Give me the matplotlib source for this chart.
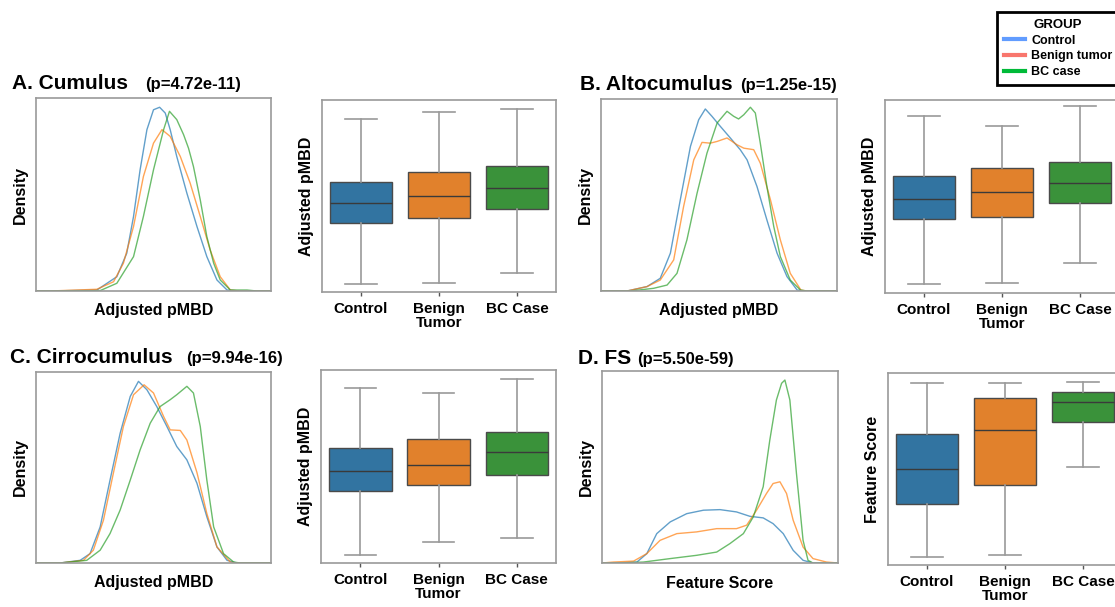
import matplotlib
matplotlib.use("Agg")
import matplotlib.pyplot as plt
from matplotlib.lines import Line2D

plt.rcParams['font.family'] = ['Liberation Sans', 'DejaVu Sans']

W, H = 1115, 607

# ---------------- data ----------------
groups = ["Control", "Benign tumor", "BC case"]
box_labels = ["Control", "Benign\nTumor", "BC Case"]
titles = ["A. Cumulus", "B. Altocumulus", "C. Cirrocumulus", "D. FS"]
pvalues = ["(p=4.72e-11)", "(p=1.25e-15)", "(p=9.94e-16)", "(p=5.50e-59)"]
xlabels = ["Adjusted pMBD", "Adjusted pMBD", "Adjusted pMBD", "Feature Score"]
ylabels_box = ["Adjusted pMBD", "Adjusted pMBD", "Adjusted pMBD", "Feature Score"]

# density curves (x: % of range, y: % of axis height)
A_x_control = [0, 6.0, 25.9, 34.4, 38.6, 41.5, 44.3, 47.2, 50.0, 52.6, 55.0, 57.1, 59.9, 64.2, 68.5, 72.7, 77.0, 81.3, 86.9, 100]
A_y_control = [0, 0, 0.5, 7.4, 19.5, 38.6, 62.8, 83.6, 93.9, 95.2, 92.2, 83.6, 69.7, 50.7, 33.4, 17.8, 5.7, 0.5, 0, 0]
A_x_benign = [0, 6.0, 25.9, 33.0, 37.2, 41.5, 45.7, 50.0, 53.6, 57.1, 61.4, 65.6, 69.9, 74.1, 78.4, 82.7, 86.9, 100]
A_y_benign = [0, 0, 0.9, 4.8, 14.4, 33.4, 59.3, 76.6, 83.6, 80.1, 69.7, 55.9, 38.6, 21.3, 7.4, 0.5, 0, 0]
A_x_bc = [0, 6.0, 27.3, 34.4, 41.5, 45.7, 50.0, 54.3, 56.8, 59.9, 62.8, 64.9, 67.0, 69.9, 72.7, 75.6, 78.4, 82.7, 89.8, 94, 100]
A_y_bc = [0, 0, 0.2, 4.0, 17.8, 38.6, 62.8, 83.6, 93.1, 88.8, 81.0, 74.0, 64.5, 47.2, 28.2, 14.4, 5.7, 0.5, 0.5, 0, 0]

B_x_control = [0, 11.0, 19.5, 25.1, 29.4, 33.6, 37.9, 41.4, 44.2, 47.0, 50.6, 54.8, 59.0, 61.9, 66.1, 70.3, 74.6, 78.8, 83.1, 85.9, 100]
B_y_control = [0, 0, 2.3, 6.6, 19.7, 47.5, 75.3, 89.2, 94.8, 91.0, 85.7, 79.7, 73.6, 68.3, 54.4, 37.0, 19.7, 7.5, 0.5, 0, 0]
B_x_benign = [0, 11.0, 19.5, 25.1, 30.8, 35.0, 39.3, 42.8, 46.3, 49.2, 53.4, 57.6, 60.5, 64.7, 67.5, 71.8, 76.0, 80.2, 84.7, 87.3, 100]
B_y_benign = [0, 0, 2.3, 5.7, 16.2, 44.0, 68.3, 77.4, 77.0, 77.9, 79.7, 76.2, 74.4, 73.6, 66.6, 47.5, 26.6, 9.2, 0.5, 0, 0]
B_x_bc = [0, 12.4, 22.3, 28.0, 32.2, 36.4, 40.7, 44.9, 49.2, 53.4, 56.2, 58.3, 60.5, 63.3, 65.4, 67.5, 70.3, 73.2, 76.0, 80.2, 84.5, 87.3, 100]
B_y_bc = [0, 0, 1.4, 3.1, 9.2, 26.6, 50.9, 71.8, 87.5, 93.6, 91.0, 89.6, 91.8, 95.7, 92.7, 77.0, 54.4, 33.6, 17.9, 5.7, 0.5, 0, 0]

C_x_control = [0, 10.2, 18.8, 23.0, 27.3, 31.5, 35.8, 40.1, 43.6, 47.2, 51.4, 55.7, 59.9, 64.2, 68.5, 72.7, 77.0, 81.3, 85.5, 100]
C_y_control = [0, 0, 1.4, 4.9, 18.9, 43.4, 67.9, 87.2, 95.1, 90.7, 81.9, 71.5, 61.0, 54.0, 41.7, 24.2, 8.4, 1.4, 0, 0]
C_x_benign = [0, 10.2, 20.2, 24.4, 28.7, 32.9, 37.2, 41.5, 46.0, 50.0, 54.3, 57.1, 61.4, 64.2, 68.5, 72.7, 77.0, 82.7, 85.5, 100]
C_y_benign = [0, 0, 1.4, 6.7, 22.4, 46.9, 71.5, 88.1, 93.3, 89.0, 76.7, 69.7, 69.4, 64.4, 47.3, 25.9, 8.4, 0.5, 0, 0]
C_x_bc = [0, 10.2, 21.6, 27.3, 31.5, 35.8, 40.1, 44.3, 48.6, 52.8, 57.1, 59.9, 64.2, 67.0, 69.9, 72.7, 75.6, 79.8, 84.1, 86.9, 100]
C_y_bc = [0, 0, 1.4, 6.7, 15.4, 27.7, 43.4, 59.2, 73.2, 81.9, 85.5, 88.1, 92.5, 89.0, 71.5, 43.4, 18.9, 4.9, 0.5, 0, 0]

D_x_control = [0, 4.9, 14.8, 19.0, 23.2, 28.9, 35.9, 43.0, 50.0, 57.0, 62.7, 68.3, 72.5, 76.8, 81.0, 85.2, 89.4, 100]
D_y_control = [0, 0, 0.5, 4.9, 15.3, 21.4, 25.7, 27.5, 27.8, 26.6, 24.3, 23.5, 20.5, 15.3, 6.6, 1.4, 0, 0]
D_x_benign = [0, 4.9, 13.4, 19.0, 24.6, 31.7, 40.1, 48.6, 57.0, 61.3, 65.5, 69.7, 72.5, 75.4, 78.2, 81.0, 85.2, 89.4, 95.1, 100]
D_y_benign = [0, 0.5, 1.0, 4.9, 11.8, 15.3, 16.2, 17.9, 17.9, 19.7, 27.5, 36.2, 41.4, 42.3, 36.2, 22.3, 8.3, 2.3, 0.5, 0]
D_x_bc = [0, 7.7, 17.6, 28.9, 40.1, 48.6, 54.2, 59.9, 64.1, 68.3, 71.1, 73.9, 76.1, 77.5, 79.6, 82.4, 85.2, 87.3, 89.4, 100]
D_y_bc = [0, 0, 0.5, 2.3, 4.0, 5.7, 10.1, 15.3, 24.0, 39.7, 64.0, 84.9, 93.6, 95.3, 84.9, 46.6, 11.8, 1.4, 0, 0]

# box statistics [whisker low, q1, median, q3, whisker high]
A_box_control = [8, 69, 89, 110, 173]
A_box_benign = [9, 74, 96, 120, 180]
A_box_bc = [19, 83, 104, 126, 183]
B_box_control = [9, 74, 94, 117, 177]
B_box_benign = [10, 76, 101, 125, 167]
B_box_bc = [30, 90, 110, 131, 187]
C_box_control = [8, 72, 92, 115, 175]
C_box_benign = [21, 78, 98, 124, 170]
C_box_bc = [25, 88, 111, 131, 184]
D_box_control = [8, 61, 96, 131, 182]
D_box_benign = [10, 80, 135, 167, 182]
D_box_bc = [98, 143, 163, 173, 183]

dens_data = [
    [(A_x_control, A_y_control), (A_x_benign, A_y_benign), (A_x_bc, A_y_bc)],
    [(B_x_control, B_y_control), (B_x_benign, B_y_benign), (B_x_bc, B_y_bc)],
    [(C_x_control, C_y_control), (C_x_benign, C_y_benign), (C_x_bc, C_y_bc)],
    [(D_x_control, D_y_control), (D_x_benign, D_y_benign), (D_x_bc, D_y_bc)],
]
box_data = [
    [A_box_control, A_box_benign, A_box_bc],
    [B_box_control, B_box_benign, B_box_bc],
    [C_box_control, C_box_benign, C_box_bc],
    [D_box_control, D_box_benign, D_box_bc],
]

# ---------------- style ----------------
line_colors = ["#1f77b4", "#ff7f0e", "#2ca02c"]
box_colors = ["#3274a1", "#e1812c", "#3a923a"]
legend_colors = ["#619cff", "#f8766d", "#00ba38"]

# pixel layouts: (left, top, right, bottom)
dens_px = [(36, 98, 271, 291), (601, 99, 837, 291), (36, 372, 271, 563), (602, 371, 838, 563)]
box_px = [(322, 100, 556, 292), (885, 100, 1119, 293), (321, 370, 556, 563), (888, 373, 1122, 565)]
title_px = [(12, 89, 145), (580, 90, 740), (10, 363, 186), (578, 364, 637)]


def rect(px):
    l, t, r, b = px
    return [l / W, 1 - b / H, (r - l) / W, (b - t) / H]


fig = plt.figure(figsize=(W / 100, H / 100), dpi=100)
fig.patch.set_facecolor("white")

bold = dict(fontweight="bold")

for i in range(4):
    # density panel
    ax = fig.add_axes(rect(dens_px[i]))
    for (xs, ys), c in zip(dens_data[i], line_colors):
        ax.plot(xs, ys, color=c, lw=1.0, alpha=0.7, solid_joinstyle="round")
    ax.set_xlim(0, 100)
    ax.set_ylim(0, 100)
    ax.set_xticks([])
    ax.set_yticks([])
    for s in ax.spines.values():
        s.set_color("#9a9a9a")
        s.set_linewidth(1.2)
    ax.set_xlabel(xlabels[i], fontsize=11.5, labelpad=9, **bold)
    ax.set_ylabel("Density", fontsize=11.5, labelpad=6, **bold)

    # box panel
    bx = fig.add_axes(rect(box_px[i]))
    stats = []
    for lab, v in zip(box_labels, box_data[i]):
        stats.append(dict(label=lab, whislo=v[0], q1=v[1], med=v[2], q3=v[3], whishi=v[4], fliers=[]))
    bp = bx.bxp(stats, positions=[0, 1, 2], widths=0.8, patch_artist=True, showfliers=False,
                boxprops=dict(edgecolor="#4a4a4a", linewidth=1.0),
                medianprops=dict(color="#3a3a3a", linewidth=1.0),
                whiskerprops=dict(color="#9a9a9a", linewidth=1.2),
                capprops=dict(color="#9a9a9a", linewidth=1.2))
    for patch, c in zip(bp["boxes"], box_colors):
        patch.set_facecolor(c)
    bx.set_xlim(-0.5, 2.5)
    bx.set_ylim(0, box_px[i][3] - box_px[i][1])
    bx.set_yticks([])
    bx.tick_params(axis="x", length=3, width=1, color="#555555", pad=4)
    for t in bx.get_xticklabels():
        t.set_fontweight("bold")
        t.set_fontsize(11)
        t.set_linespacing(1.0)
    for s in bx.spines.values():
        s.set_color("#9a9a9a")
        s.set_linewidth(1.2)
    bx.set_ylabel(ylabels_box[i], fontsize=11.5, labelpad=6, **bold)

    # titles
    tx, ty, px_ = title_px[i]
    fig.text(tx / W, 1 - ty / H, titles[i], fontsize=15, va="baseline", ha="left", **bold)
    fig.text(px_ / W, 1 - ty / H, pvalues[i], fontsize=12, va="baseline", ha="left", **bold)

# legend
handles = [Line2D([0], [0], color=c, lw=3) for c in legend_colors]
leg = fig.legend(handles, groups, title="GROUP", loc="upper left",
                 bbox_to_anchor=(997 / W, 1 - 12 / H), borderaxespad=0,
                 frameon=True, fancybox=False, framealpha=1, edgecolor="black",
                 prop=dict(weight="bold", size=9), handlelength=1.7,
                 handletextpad=0.5, labelspacing=0.3, borderpad=0.55)
leg.get_frame().set_linewidth(2)
leg.get_title().set_fontweight("bold")
leg.get_title().set_fontsize(9.5)

fig.savefig("out.png", dpi=100)
